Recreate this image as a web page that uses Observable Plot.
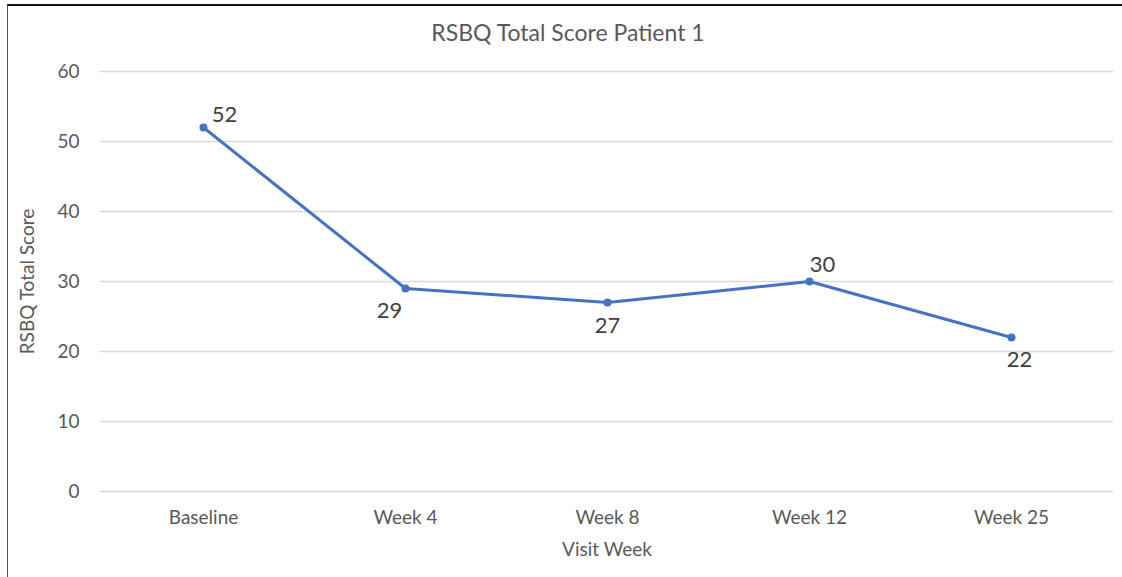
<!DOCTYPE html>
<html>
<head>
<meta charset="utf-8">
<script src="https://cdn.jsdelivr.net/npm/d3@7"></script>
<script src="https://cdn.jsdelivr.net/npm/@observablehq/plot@0.6"></script>
<style>
  html, body { margin: 0; padding: 0; background: #fff; }
  #wrap { position: relative; width: 1122px; height: 577px; overflow: hidden; font-family: Lato, "Open Sans", sans-serif; }
  #frame { position: absolute; left: 7px; top: 4px; right: 0; bottom: 0; border-top: 2px solid #111; border-left: 1px solid #555; pointer-events: none; }
  #title { position: absolute; left: 0; width: 1136px; top: 18px; text-align: center; font-size: 23px; line-height: 28px; color: #595959; }
  #chart { position: absolute; left: 0; top: 0; }
</style>
</head>
<body>
<div id="wrap">
  <div id="chart"></div>
  <div id="frame"></div>
  <div id="title">RSBQ Total Score Patient 1</div>
</div>
<script>
const weeks = ["Baseline", "Week 4", "Week 8", "Week 12", "Week 25"];
const scores = [52, 29, 27, 30, 22];
const yTicks = [0, 10, 20, 30, 40, 50, 60];

const data = weeks.map((w, i) => ({week: w, score: scores[i]}));
const font = "Lato, 'Open Sans', sans-serif";

function label(i, dx, dy) {
  return Plot.text(data.filter((d, j) => j === i), {
    x: "week", y: "score", text: d => String(d.score),
    dx, dy, fontSize: 22, fill: "#404040"
  });
}

const chart = Plot.plot({
  width: 1122,
  height: 577,
  marginLeft: 100,
  marginRight: 9,
  marginTop: 71,
  marginBottom: 86,
  style: {fontFamily: font, background: "transparent"},
  x: {type: "point", domain: weeks, padding: 0.5},
  y: {domain: [0, 60]},
  marks: [
    Plot.gridY(yTicks, {stroke: "#d9d9d9", strokeOpacity: 1, strokeWidth: 1.3}),
    Plot.axisY(yTicks, {tickSize: 0, tickPadding: 21, fontSize: 19, fill: "#595959",
      label: "RSBQ Total Score", labelAnchor: "center", labelArrow: "none", labelOffset: 80}),
    Plot.axisX({tickSize: 0, tickPadding: 19, fontSize: 19, fill: "#595959",
      label: "Visit Week", labelAnchor: "center", labelArrow: "none", labelOffset: 64}),
    Plot.line(data, {x: "week", y: "score", stroke: "#4472C4", strokeWidth: 3}),
    Plot.dot(data, {x: "week", y: "score", r: 4, fill: "#4472C4", stroke: "none"}),
    label(0, 21, -13),
    label(1, -16, 22),
    label(2, 0, 23),
    label(3, 13, -17),
    label(4, 8, 22)
  ]
});
document.getElementById("chart").appendChild(chart);
</script>
</body>
</html>
